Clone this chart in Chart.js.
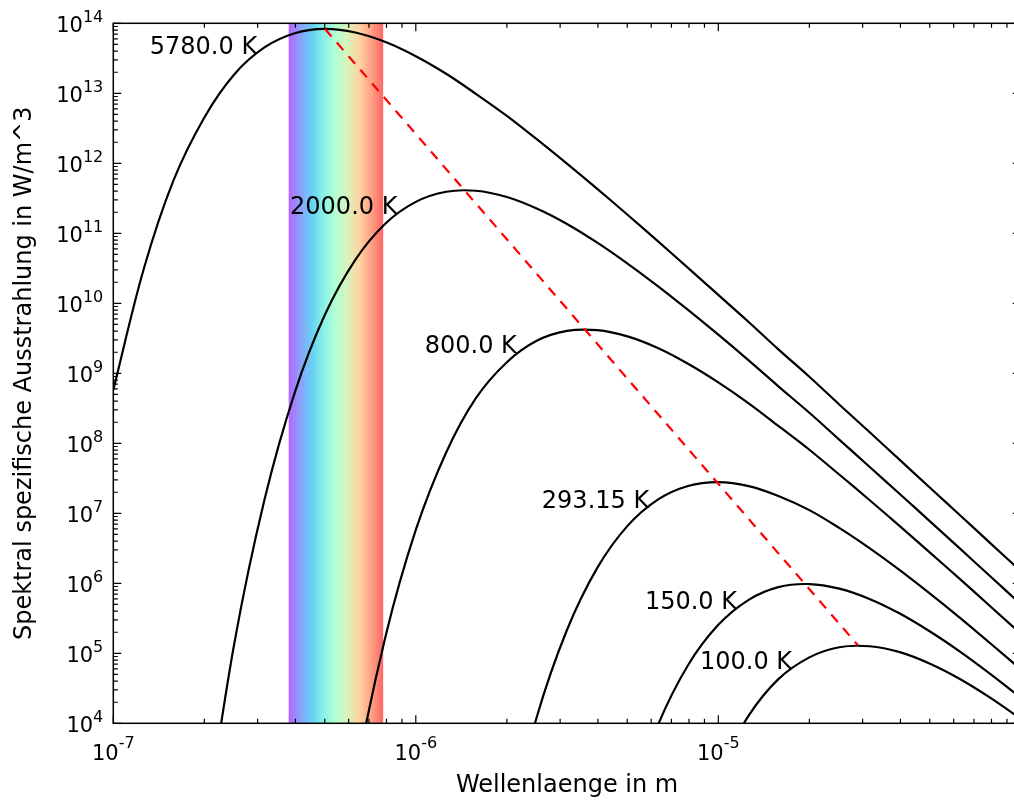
<!DOCTYPE html>
<html>
<head>
<meta charset="utf-8">
<title>Planck</title>
<script src="https://cdn.jsdelivr.net/npm/chart.js@4.4.0/dist/chart.umd.min.js"></script>
<style>
html, body { margin: 0; padding: 0; overflow: hidden; background: #fff; }
canvas { display: block; }
</style>
</head>
<body>
<canvas id="planckChart" width="1030" height="805"></canvas>
<script>
// Wellenlaenge in m, 0.1 Dekaden Schritt
const lambdaM = [1.00e-7, 1.26e-7, 1.58e-7, 2.00e-7, 2.51e-7, 3.16e-7, 3.98e-7, 5.01e-7, 6.31e-7, 7.94e-7,
                 1.00e-6, 1.26e-6, 1.58e-6, 2.00e-6, 2.51e-6, 3.16e-6, 3.98e-6, 5.01e-6, 6.31e-6, 7.94e-6,
                 1.00e-5, 1.26e-5, 1.58e-5, 2.00e-5, 2.51e-5, 3.16e-5, 3.98e-5, 5.01e-5, 6.31e-5, 7.94e-5, 1.00e-4];

// Ausstrahlung in W/m^3
const t5780 = [5.78e8, 3.06e10, 5.65e11, 4.52e12, 1.86e13, 4.52e13, 7.21e13, 8.30e13, 7.38e13, 5.40e13,
               3.39e13, 1.90e13, 9.82e12, 4.76e12, 2.21e12, 9.89e11, 4.31e11, 1.84e11, 7.73e10, 3.21e10,
               1.32e10, 5.41e9, 2.20e9, 8.91e8, 3.59e8, 1.45e8, 5.79e7, 2.32e7, 9.31e6, 3.72e6, 1.49e6];
const t2000 = [null, null, null, 2.59e2, 1.36e5, 1.56e7, 5.31e8, 6.90e9, 4.18e10, 1.38e11,
               2.81e11, 3.92e11, 4.05e11, 3.30e11, 2.26e11, 1.36e11, 7.35e10, 3.70e10, 1.76e10, 8.04e9,
               3.56e9, 1.53e9, 6.52e8, 2.73e8, 1.13e8, 4.63e7, 1.89e7, 7.67e6, 3.10e6, 1.25e6, 5.01e5];
const t800 = [null, null, null, null, null, null, null, 3.08e0, 1.56e3, 1.74e5,
              5.78e6, 7.40e7, 4.42e8, 1.44e9, 2.91e9, 4.03e9, 4.13e9, 3.37e9, 2.30e9, 1.37e9,
              7.43e8, 3.73e8, 1.77e8, 8.09e7, 3.58e7, 1.55e7, 6.55e6, 2.74e6, 1.14e6, 4.66e5, 1.90e5];
const t293 = [null, null, null, null, null, null, null, null, null, null,
              null, null, null, 2.45e2, 1.22e4, 2.15e5, 1.66e6, 6.61e6, 1.57e7, 2.46e7,
              2.79e7, 2.45e7, 1.77e7, 1.11e7, 6.18e6, 3.18e6, 1.54e6, 7.11e5, 3.18e5, 1.38e5, 5.90e4];
const t150 = [null, null, null, null, null, null, null, null, null, null,
              null, null, null, null, null, null, null, 5.77e2, 9.35e3, 6.75e4,
              2.55e5, 5.81e5, 8.83e5, 9.75e5, 8.39e5, 5.98e5, 3.70e5, 2.05e5, 1.05e5, 5.05e4, 2.32e4];
const t100 = [null, null, null, null, null, null, null, null, null, null,
              null, null, null, null, null, null, null, null, null, null,
              2.11e3, 1.29e4, 4.28e4, 8.75e4, 1.22e5, 1.26e5, 1.04e5, 7.11e4, 4.27e4, 2.31e4, 1.16e4];

// Wiensches Verschiebungsgesetz (Maxima)
const wienLambda = [5.01e-7, 2.90e-5];
const wienValue = [8.30e13, 1.29e5];

// Beschriftungen der Kurven
const curveLabels = ['5780.0 K', '2000.0 K', '800.0 K', '293.15 K', '150.0 K', '100.0 K'];
const labelLambda = [1.32e-7, 3.84e-7, 1.07e-6, 2.61e-6, 5.72e-6, 8.70e-6];
const labelValue = [3.67e13, 1.90e11, 1.96e9, 1.19e7, 4.32e5, 5.87e4];

// sichtbares Licht
const visibleBand = [3.8e-7, 7.8e-7];
const bandColors = ['#b366ff', '#8ca1fc', '#66d2f3', '#8cf3e5', '#b3ffd2', '#d9f3bb', '#ffd2a1', '#ffa184', '#ff6666'];

const xTickExp = [-7, -6, -5];
const yTickExp = [4, 5, 6, 7, 8, 9, 10, 11, 12, 13, 14];

const FONT = '"DejaVu Sans", sans-serif';

function toPoints(xs, ys) {
	let pts = [];
	for (let i = 0; i < xs.length; i++) {
		if (ys[i] !== null) pts.push({x: xs[i], y: ys[i]});
	}
	return pts;
}

function curve(data) {
	return {
		data: toPoints(lambdaM, data),
		borderColor: '#000000',
		borderWidth: 2.2,
		pointRadius: 0,
		tension: 0.35,
		fill: false
	};
}

const decor = {
	id: 'decor',
	beforeDatasetsDraw(chart) {
		const ctx = chart.ctx, a = chart.chartArea, xs = chart.scales.x;
		const x0 = xs.getPixelForValue(visibleBand[0]);
		const x1 = xs.getPixelForValue(visibleBand[1]);
		let grad = ctx.createLinearGradient(x0, 0, x1, 0);
		for (let i = 0; i < bandColors.length; i++) {
			grad.addColorStop(i / (bandColors.length - 1), bandColors[i]);
		}
		ctx.save();
		ctx.fillStyle = grad;
		ctx.fillRect(x0, a.top, x1 - x0, a.bottom - a.top);
		ctx.restore();
	},
	afterDatasetsDraw(chart) {
		const ctx = chart.ctx, xs = chart.scales.x, ys = chart.scales.y;
		ctx.save();
		ctx.fillStyle = '#000';
		ctx.font = '24px ' + FONT;
		ctx.textAlign = 'left';
		ctx.textBaseline = 'alphabetic';
		for (let i = 0; i < curveLabels.length; i++) {
			ctx.fillText(curveLabels[i], xs.getPixelForValue(labelLambda[i]), ys.getPixelForValue(labelValue[i]));
		}
		ctx.restore();
	},
	afterDraw(chart) {
		const ctx = chart.ctx, a = chart.chartArea, xs = chart.scales.x, ys = chart.scales.y;
		ctx.save();
		ctx.strokeStyle = '#000';
		ctx.lineWidth = 1.2;
		ctx.beginPath();
		// x ticks, unten und oben, nach innen
		for (let e = -7; e <= -4; e++) {
			for (let m = 1; m <= 9; m++) {
				const v = m * Math.pow(10, e);
				if (v > xs.max * 1.0001) continue;
				const px = xs.getPixelForValue(v);
				const len = m === 1 ? 8 : 4.5;
				ctx.moveTo(px, a.bottom); ctx.lineTo(px, a.bottom - len);
				ctx.moveTo(px, a.top); ctx.lineTo(px, a.top + len);
			}
		}
		// y ticks, links und rechts
		for (let e = 4; e <= 14; e++) {
			for (let m = 1; m <= 9; m++) {
				const v = m * Math.pow(10, e);
				if (v > ys.max * 1.0001) continue;
				const py = ys.getPixelForValue(v);
				const len = m === 1 ? 8 : 4.5;
				ctx.moveTo(a.left, py); ctx.lineTo(a.left + len, py);
				ctx.moveTo(a.right, py); ctx.lineTo(a.right - len, py);
			}
		}
		ctx.stroke();
		ctx.lineWidth = 1.5;
		ctx.strokeRect(a.left, a.top, a.right - a.left, a.bottom - a.top);

		// Achsenbeschriftung 10^n
		ctx.fillStyle = '#000';
		ctx.textBaseline = 'alphabetic';
		ctx.textAlign = 'left';
		const baseFont = '21px ' + FONT, supFont = '16px ' + FONT;
		yTickExp.forEach(function(e) {
			const py = ys.getPixelForValue(Math.pow(10, e));
			ctx.font = supFont;
			const sw = ctx.measureText(String(e)).width;
			ctx.font = baseFont;
			const bw = ctx.measureText('10').width;
			const right = a.left - 10;
			ctx.fillText('10', right - sw - bw, py + 8.5);
			ctx.font = supFont;
			ctx.fillText(String(e), right - sw, py - 1.5);
		});
		xTickExp.forEach(function(e) {
			const px = xs.getPixelForValue(Math.pow(10, e));
			ctx.font = supFont;
			const sw = ctx.measureText(String(e)).width;
			ctx.font = baseFont;
			const bw = ctx.measureText('10').width;
			const left = px - (sw + bw) / 2;
			ctx.fillText('10', left, a.bottom + 36.5);
			ctx.font = supFont;
			ctx.fillText(String(e), left + bw, a.bottom + 25);
		});

		// Achsentitel
		ctx.font = '24px ' + FONT;
		ctx.textAlign = 'center';
		ctx.fillText('Wellenlaenge in m', (a.left + a.right) / 2, a.bottom + 68.5);
		ctx.translate(a.left - 82, (a.top + a.bottom) / 2);
		ctx.rotate(-Math.PI / 2);
		ctx.fillText('Spektral spezifische Ausstrahlung in W/m^3', 0, 0);
		ctx.restore();
	}
};

var chart = new Chart(document.getElementById('planckChart').getContext('2d'), {
	type: 'line',
	data: {
		datasets: [
			{
				data: toPoints(wienLambda, wienValue),
				borderColor: '#ff0000',
				borderWidth: 2.2,
				borderDash: [10, 8],
				pointRadius: 0,
				fill: false
			},
			curve(t5780),
			curve(t2000),
			curve(t800),
			curve(t293),
			curve(t150),
			curve(t100)
		]
	},
	options: {
		responsive: false,
		animation: false,
		events: [],
		layout: {
			padding: {left: 113.3, top: 23.3, right: 9.2, bottom: 81.7}
		},
		plugins: {
			legend: {display: false},
			tooltip: {enabled: false}
		},
		scales: {
			x: {
				type: 'logarithmic',
				min: 1e-7,
				max: 1e-4,
				display: false
			},
			y: {
				type: 'logarithmic',
				min: 1e4,
				max: 1e14,
				display: false
			}
		}
	},
	plugins: [decor]
});
</script>
</body>
</html>
